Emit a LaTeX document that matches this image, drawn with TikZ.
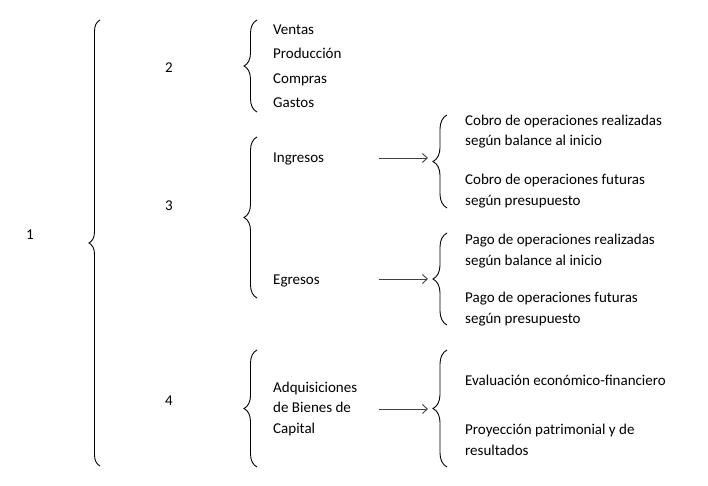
\documentclass[tikz,border=0pt]{standalone}
\usepackage{fontspec}
\setmainfont{Carlito}
\usetikzlibrary{decorations.pathreplacing, arrows.meta}
\newcommand{\fsize}{\fontsize{15}{20.5}\selectfont}
\tikzset{
    txt/.style={anchor=base west, inner sep=0pt, font=\fsize, align=left},
    num/.style={anchor=base, inner sep=0pt, font=\fsize},
    curly/.style={decorate, decoration={brace, amplitude=#1}, line width=0.9pt},
    curly/.default=12pt,
    link/.style={-{Straight Barb[length=5pt, width=9pt]}, line width=0.9pt, black!75}
}

\begin{document}
\begin{tikzpicture}[x=1pt, y=-1pt]
    \useasboundingbox (0,0) rectangle (708,486);

    % numbers
    \node[num] (n1) at (30,239) {1};
    \node[num] (n2) at (169,73) {2};
    \node[num] (n3) at (169,210) {3};
    \node[num] (n4) at (169,405) {4};

    % second column
    \node[txt] (ventas) at (273,35) {Ventas};
    \node[txt] (prod) at (273,59) {Producción};
    \node[txt] (compras) at (273,84) {Compras};
    \node[txt] (gastos) at (273,108) {Gastos};
    \node[txt] (ingresos) at (273,163) {Ingresos};
    \node[txt] (egresos) at (273,284) {Egresos};
    \node[txt] (adq) at (273,433) {Adquisiciones\\de Bienes de\\Capital};

    % third column (base = last line)
    \node[txt] (cobro1) at (465,146) {Cobro de operaciones realizadas\\según balance al inicio};
    \node[txt] (cobro2) at (465,205) {Cobro de operaciones futuras\\según presupuesto};
    \node[txt] (pago1) at (465,265) {Pago de operaciones realizadas\\según balance al inicio};
    \node[txt] (pago2) at (465,323) {Pago de operaciones futuras\\según presupuesto};
    \node[txt] (eval) at (465,385) {Evaluación económico-financiero};
    \node[txt] (proy) at (465,455) {Proyección patrimonial y de\\resultados};

    % braces
    \draw[curly=11pt] (100,466) -- (100,20);
    \draw[curly=13pt] (257,112) -- (257,20);
    \draw[curly=13pt] (257,298) -- (257,137);
    \draw[curly=13pt] (257,467) -- (257,350);
    \draw[curly=14pt] (447,208) -- (447,115);
    \draw[curly=14pt] (447,325) -- (447,233);
    \draw[curly=14pt] (447,467) -- (447,350);

    % arrows
    \coordinate (a1) at (379,158);
    \coordinate (b1) at (428,158);
    \coordinate (a2) at (379,279);
    \coordinate (b2) at (428,279);
    \coordinate (a3) at (379,409);
    \coordinate (b3) at (428,409);
    \draw[link] (a1) -- (b1);
    \draw[link] (a2) -- (b2);
    \draw[link] (a3) -- (b3);
\end{tikzpicture}
\end{document}
